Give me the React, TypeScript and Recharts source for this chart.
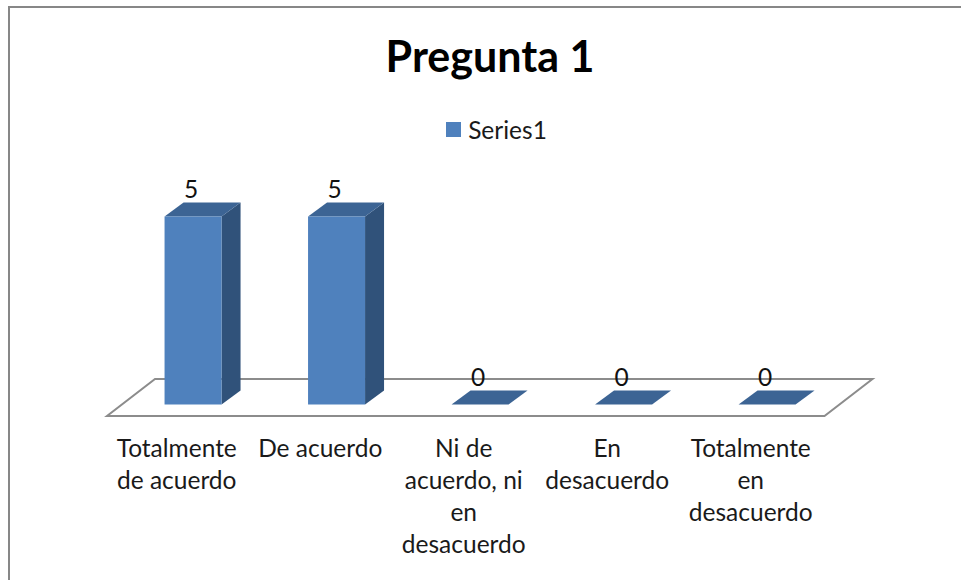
import { Bar, BarChart, LabelList, Legend, ReferenceArea, XAxis, YAxis } from "recharts";

// chart data
const categories = [
  "Totalmente de acuerdo",
  "De acuerdo",
  "Ni de acuerdo, ni en desacuerdo",
  "En desacuerdo",
  "Totalmente en desacuerdo",
];
const series1 = [5, 5, 0, 0, 0];
const tickLines = [
  ["Totalmente", "de acuerdo"],
  ["De acuerdo"],
  ["Ni de", "acuerdo, ni", "en", "desacuerdo"],
  ["En", "desacuerdo"],
  ["Totalmente", "en", "desacuerdo"],
];
const yTicks = [0, 5];

const data = categories.map((name, i) => ({ name, value: series1[i] }));

const FONT = "Lato, 'Open Sans', sans-serif";
const FRONT = "#4f81bd";
const SIDE = "#30527a";
const TOP = "#3c6494";

// 3d offsets (depth of floor and of a bar)
const FLOOR_DX = 48;
const FLOOR_DY = -37;
const BAR_DX = 19;
const BAR_DY = -14;
const SHIFT_X = (FLOOR_DX - BAR_DX) / 2;
const SHIFT_Y = (FLOOR_DY - BAR_DY) / 2;

function Bar3D(props: any) {
  const { x, y, width, height } = props;
  const fx = x + SHIFT_X;
  const fy = y + SHIFT_Y;
  const h = Math.max(0, height);
  return (
    <g>
      {h > 0 && (
        <polygon
          points={`${fx + width},${fy} ${fx + width + BAR_DX},${fy + BAR_DY} ${fx + width + BAR_DX},${fy + h + BAR_DY} ${fx + width},${fy + h}`}
          fill={SIDE}
        />
      )}
      <polygon
        points={`${fx},${fy} ${fx + BAR_DX},${fy + BAR_DY} ${fx + width + BAR_DX},${fy + BAR_DY} ${fx + width},${fy}`}
        fill={TOP}
      />
      {h > 0 && <rect x={fx} y={fy} width={width} height={h} fill={FRONT} />}
    </g>
  );
}

function Floor(props: any) {
  const { x, y, width, height } = props;
  const by = y + height;
  return (
    <polygon
      points={`${x},${by} ${x + width},${by} ${x + width + FLOOR_DX},${by + FLOOR_DY} ${x + FLOOR_DX},${by + FLOOR_DY}`}
      fill="#ffffff"
      stroke="#8c8c8c"
      strokeWidth={2}
    />
  );
}

function ValueLabel(props: any) {
  const { x, y, width, value } = props;
  return (
    <text
      x={x + SHIFT_X + width / 2 - 2}
      y={y + SHIFT_Y - 19}
      textAnchor="middle"
      fontFamily={FONT}
      fontSize={24.5}
      fill="#111"
    >
      {value}
    </text>
  );
}

function CategoryTick(props: any) {
  const { x, y, payload } = props;
  const lines = tickLines[payload.index] || [String(payload.value)];
  return (
    <g>
      {lines.map((line, i) => (
        <text
          key={i}
          x={x - 2}
          y={y + 41 + i * 32}
          textAnchor="middle"
          fontFamily={FONT}
          fontSize={24.5}
          fill="#1a1a1a"
        >
          {line}
        </text>
      ))}
    </g>
  );
}

function LegendContent() {
  return (
    <div style={{ display: "flex", justifyContent: "center", alignItems: "center", fontFamily: FONT }}>
      <span style={{ width: 15, height: 15, background: FRONT, marginRight: 7, marginLeft: 4 }} />
      <span style={{ fontSize: 24.5, color: "#1a1a1a" }}>Series1</span>
    </div>
  );
}

export default function App() {
  return (
    <div style={{ position: "absolute", left: 0, top: 0, width: 961, height: 580, overflow: "hidden", background: "#fff" }}>
      <div
        style={{
          position: "absolute",
          left: 8,
          top: 6,
          width: 1100,
          height: 700,
          border: "2px solid #878787",
          boxSizing: "border-box",
        }}
      />
      <div
        style={{
          position: "absolute",
          left: 0,
          top: 30,
          width: 980,
          textAlign: "center",
          fontFamily: FONT,
          fontWeight: 700,
          fontSize: 43,
          color: "#000",
        }}
      >
        Pregunta 1
      </div>
      <BarChart
        width={961}
        height={580}
        data={data}
        margin={{ top: 228, right: 136.5, left: 107, bottom: 30 }}
        barCategoryGap="30%"
        style={{ position: "absolute", left: 0, top: 0 }}
      >
        <XAxis
          dataKey="name"
          axisLine={false}
          tickLine={false}
          tickSize={0}
          tickMargin={0}
          height={134}
          interval={0}
          tick={<CategoryTick />}
        />
        <YAxis hide domain={[0, 5]} ticks={yTicks} />
        <ReferenceArea y1={0} y2={5} shape={<Floor />} ifOverflow="visible" />
        <Legend
          verticalAlign="middle"
          content={<LegendContent />}
          wrapperStyle={{ top: 115, left: 14, width: 961 }}
        />
        <Bar dataKey="value" name="Series1" shape={<Bar3D />} isAnimationActive={false}>
          <LabelList dataKey="value" content={<ValueLabel />} />
        </Bar>
      </BarChart>
    </div>
  );
}
